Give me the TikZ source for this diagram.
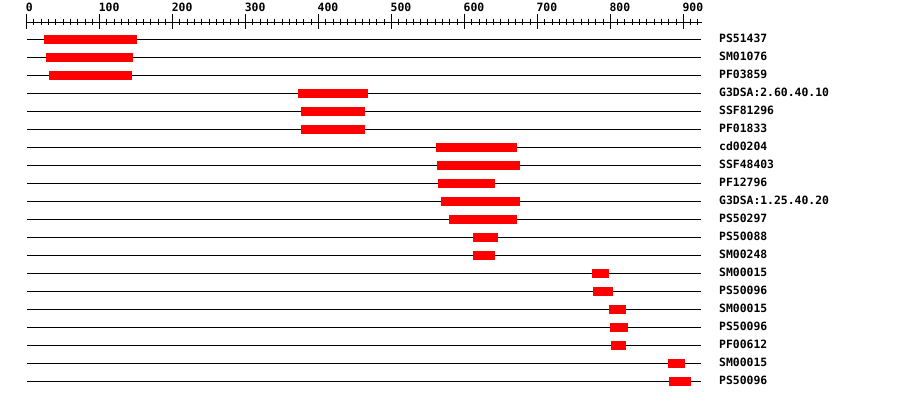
\documentclass[tikz,border=0pt]{standalone}
\usepackage{fontspec}
\setmonofont{DejaVu Sans Mono}
\definecolor{barred}{RGB}{255,0,0}
\begin{document}
\begin{tikzpicture}[x=1pt,y=-1pt,
  lbl/.style={font=\ttfamily\bfseries\fontsize{11.4}{12}\selectfont, anchor=base west, inner sep=0pt},
  barbox/.style={fill=barred, draw=none},
  track/.style={line width=1pt, line cap=rect},
  tick/.style={line width=1pt}]
\useasboundingbox (0,0) rectangle (900,400);
% axis
\draw[track] (26.7,22) -- (701.5,22);
\foreach \u in {0,10,...,920}
  \draw[tick] ({26.7+0.7296*\u},19) -- ({26.7+0.7296*\u},25);
\foreach \u in {0,100,...,900} {
  \draw[tick] ({26.7+0.7296*\u},14) -- ({26.7+0.7296*\u},29);
  \node[lbl] (ax\u) at ({26.7+0.7296*\u-1},11) {\u};
}
% rows
\foreach \name/\xa/\xb [count=\i] in {
  PS51437/44.3/136.7,
  SM01076/46/133,
  PF03859/49/132,
  G3DSA:2.60.40.10/298/368,
  SSF81296/301/365,
  PF01833/301/365,
  cd00204/436/517,
  SSF48403/437/520,
  PF12796/438/495,
  G3DSA:1.25.40.20/441/520,
  PS50297/449/517,
  PS50088/473/498,
  SM00248/473/495,
  SM00015/592/609,
  PS50096/593/613,
  SM00015/609/626,
  PS50096/610/628,
  PF00612/611/626,
  SM00015/668/685,
  PS50096/669/691} {
  \pgfmathsetmacro{\yy}{39.3+18*(\i-1)}
  \draw[track] (27,\yy) -- (700,\yy);
  \fill[barbox] (\xa,\yy-4.4) rectangle (\xb,\yy+4.6);
  \node[lbl] (name\i) at (719,\yy+3.6) {\name};
}
\end{tikzpicture}
\end{document}
